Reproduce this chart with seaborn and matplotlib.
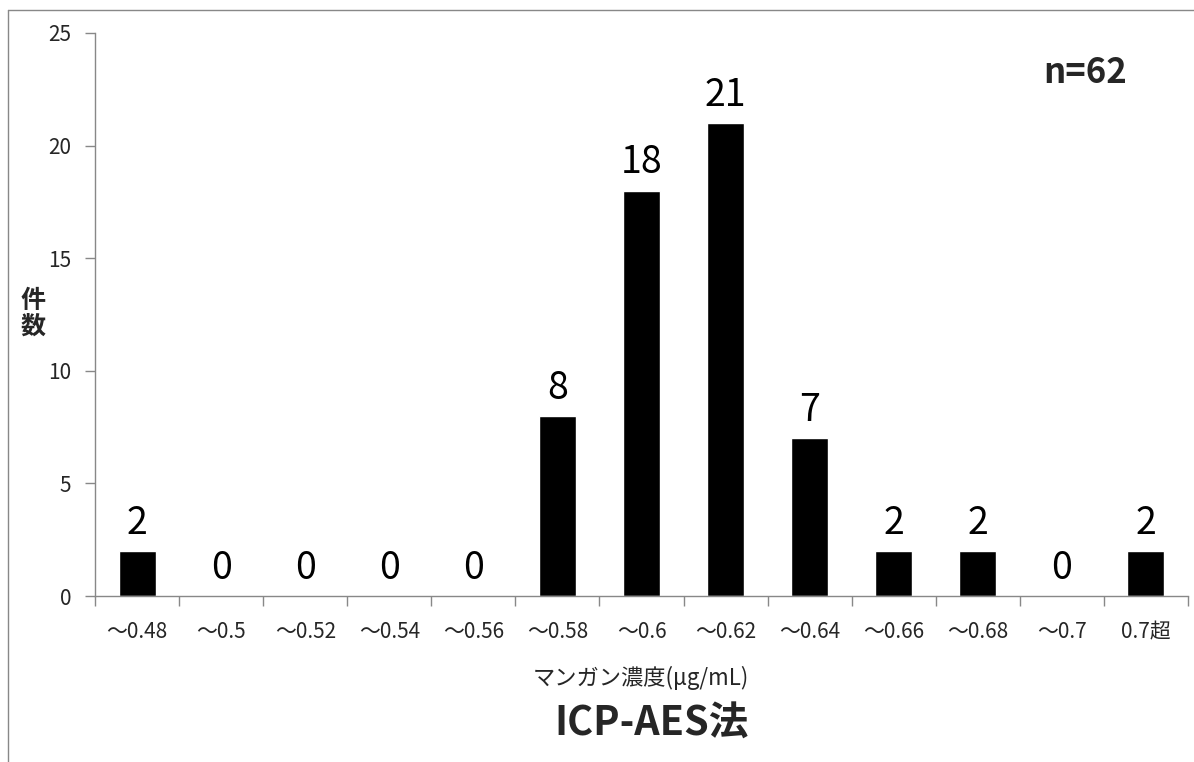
import seaborn as sns
import matplotlib.pyplot as plt
from matplotlib.lines import Line2D
import pandas as pd

# Bins and counts
categories = ['～0.48', '～0.5', '～0.52', '～0.54', '～0.56', '～0.58', '～0.6',
              '～0.62', '～0.64', '～0.66', '～0.68', '～0.7', '0.7超']
counts = [2, 0, 0, 0, 0, 8, 18, 21, 7, 2, 2, 0, 2]
n_total = 62

df = pd.DataFrame({'bin': categories, 'count': counts})

sns.set_style('white')
plt.rcParams['font.family'] = ['Noto Sans CJK JP', 'DejaVu Sans']

fig = plt.figure(figsize=(11.94, 7.62), dpi=100)
ax = fig.add_axes([0.0796, 0.2178, 0.9154, 0.7389])

sns.barplot(data=df, x='bin', y='count', color='black', width=0.44,
            saturation=1, ax=ax)

ax.set_ylim(0, 25)
ax.set_xlim(-0.5, len(categories) - 0.5)
ax.set_yticks([0, 5, 10, 15, 20, 25])

# value labels on top of bars
for i, v in enumerate(counts):
    ax.annotate(str(v), (i, v), xytext=(0, 6), textcoords='offset points',
                ha='center', va='bottom', fontsize=27, color='black')

# Excel-style category separators
ax.set_xticks([i - 0.5 for i in range(len(categories) + 1)], minor=False)
ax.set_xticklabels([])
ax.set_xticks(range(len(categories)), minor=True)
ax.set_xticklabels(categories, minor=True)
ax.tick_params(axis='x', which='minor', bottom=False, length=0, pad=18,
               labelsize=15)
ax.tick_params(axis='x', which='major', bottom=True, length=7, width=1,
               color='#888888', direction='out')
ax.tick_params(axis='y', left=True, length=7, width=1, color='#888888',
               direction='out', labelsize=15, pad=10)

for side in ['top', 'right']:
    ax.spines[side].set_visible(False)
for side in ['left', 'bottom']:
    ax.spines[side].set_color('#888888')
    ax.spines[side].set_linewidth(1)

ax.set_xlabel('')
ax.set_ylabel('')
fig.text(0.537, 0.11, 'マンガン濃度(μg/mL)', fontsize=16,
         ha='center', va='center')
fig.text(0.028, 0.588, '件\n数', fontsize=18, fontweight='bold',
         ha='center', va='center', linespacing=1.1)

ax.text(0.944, 0.93, f'n={n_total}', transform=ax.transAxes, fontsize=25,
        fontweight='bold', ha='right', va='center')

fig.text(0.546, 0.05, 'ICP-AES法', fontsize=28.5, fontweight='bold',
         ha='center', va='center')

# outer frame (left and top edges visible)
fig.add_artist(Line2D([0.0067, 0.0067], [0.0, 0.987], color='#888888', lw=1,
                      transform=fig.transFigure))
fig.add_artist(Line2D([0.0067, 1.0], [0.987, 0.987], color='#888888', lw=1,
                      transform=fig.transFigure))

fig.savefig('out.png', dpi=100)
